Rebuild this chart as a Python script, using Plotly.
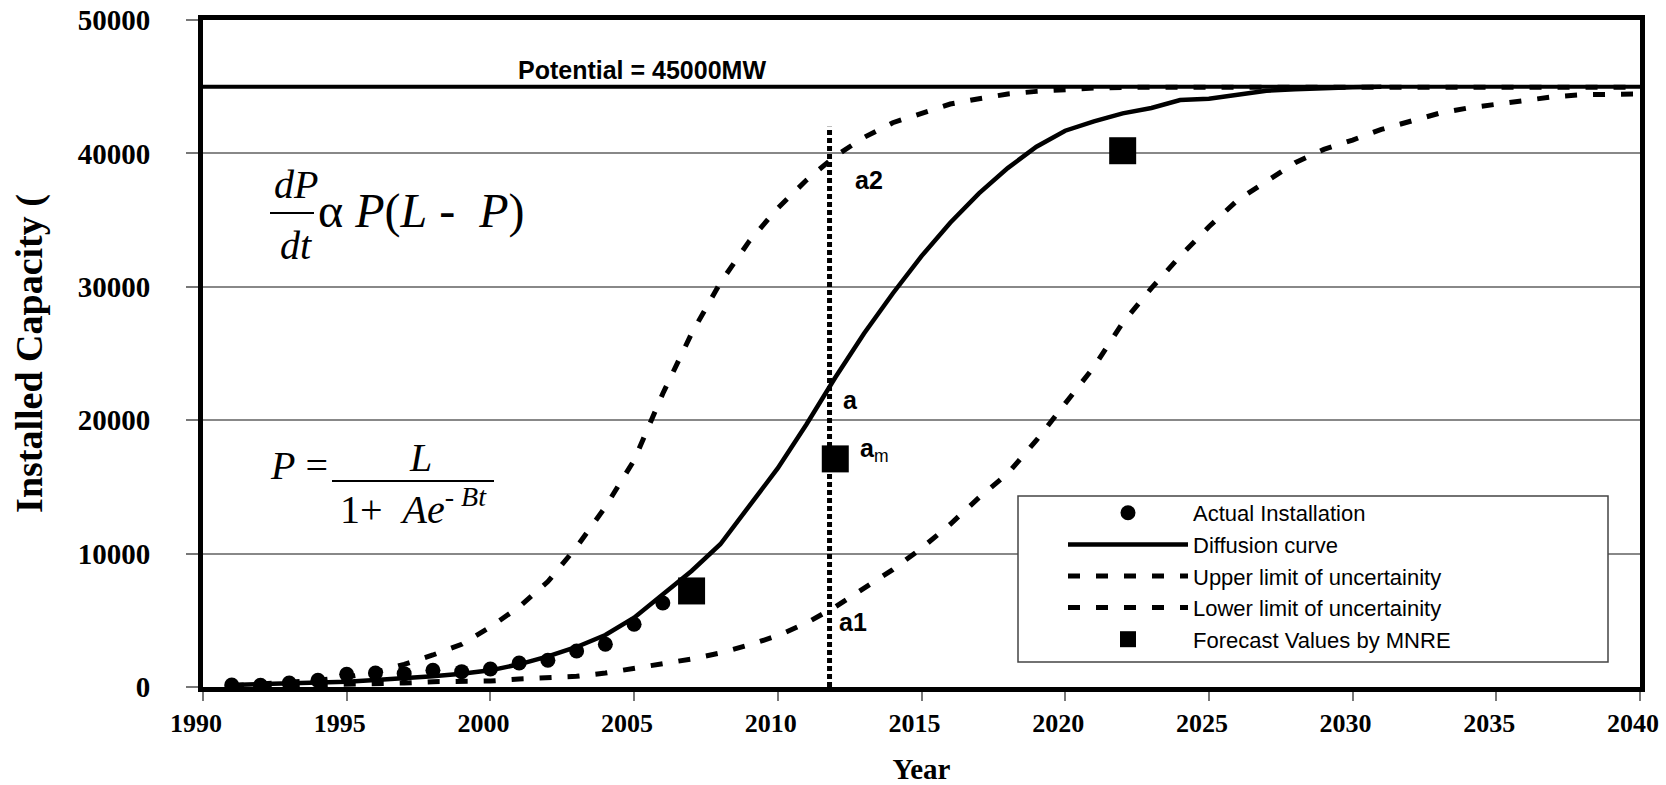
import plotly.graph_objects as go

# ---------------- data ----------------
actual_years = list(range(1991, 2007))
actual_values = [150, 130, 300, 500, 950, 1050, 1000, 1250, 1150, 1350, 1800, 2000, 2700, 3200, 4700, 6300]

curve_years = list(range(1991, 2032))
diffusion_values = [150, 200, 250, 320, 400, 520, 650, 800, 1000, 1250,
                    1700, 2300, 3000, 3900, 5200, 6900, 8700, 10700, 13500, 16400,
                    19700, 23200, 26500, 29500, 32300, 34800, 37000, 38900, 40500, 41700,
                    42400, 43000, 43400, 44000, 44100, 44400, 44700, 44800, 44900, 44950,
                    45000]

band_years = list(range(1991, 2041))
upper_values = [100, 200, 350, 500, 750, 1100, 1700, 2400, 3200, 4500,
                6000, 7900, 10500, 13500, 17000, 22000, 26500, 30300, 33400, 35900,
                38000, 39800, 41200, 42300, 43000, 43700, 44100, 44450, 44650, 44800,
                44900, 44950, 44950, 44950, 44950, 44950, 44950, 44950, 44950, 44950,
                44950, 44950, 44950, 44950, 44950, 44950, 44950, 44950, 44950, 44950]
lower_values = [50, 80, 100, 150, 200, 250, 300, 400, 400, 450,
                600, 700, 800, 1050, 1400, 1750, 2100, 2550, 3150, 3850,
                4800, 6000, 7400, 8800, 10400, 12200, 14200, 16000, 18500, 21300,
                24000, 27300, 29900, 32300, 34500, 36500, 37900, 39300, 40300, 41000,
                41800, 42400, 43000, 43400, 43700, 44000, 44250, 44400, 44450, 44450]

forecast_years = [2007, 2012, 2022]
forecast_values = [7200, 17100, 40200]

potential = 45000
potential_span = [1990, 2040]
marker_year = 2011.8
marker_top = 42000

x_ticks = list(range(1990, 2041, 5))
x_tick_labels = [str(v) for v in x_ticks]
y_ticks = list(range(0, 50001, 10000))
y_tick_labels = [str(v) for v in y_ticks]

# ---------------- layout helpers ----------------
W, H = 1666, 785
PLOT_L, PLOT_R, PLOT_T, PLOT_B = 203, 1640, 20, 687      # pixels
L_M, T_M = PLOT_L, PLOT_T
R_M, B_M = W - PLOT_R, H - PLOT_B
PW, PH = PLOT_R - PLOT_L, PLOT_B - PLOT_T


def pxx(x):
    return (x - PLOT_L) / PW


def pxy(y):
    return (PLOT_B - y) / PH


SERIF = "Liberation Serif, Times New Roman, serif"
SANS = "Liberation Sans, Arial, sans-serif"
NB = "\u00a0"

fig = go.Figure()

fig.add_trace(go.Scatter(
    x=actual_years, y=actual_values, mode="markers", name="Actual Installation",
    marker=dict(symbol="circle", size=15, color="black")))
fig.add_trace(go.Scatter(
    x=curve_years, y=diffusion_values, mode="lines", name="Diffusion curve",
    line=dict(color="black", width=4.5)))
fig.add_trace(go.Scatter(
    x=band_years, y=upper_values, mode="lines", name="Upper limit of uncertainity",
    line=dict(color="black", width=5, dash="12px,16px")))
fig.add_trace(go.Scatter(
    x=band_years, y=lower_values, mode="lines", name="Lower limit of uncertainity",
    line=dict(color="black", width=5, dash="12px,16px")))
fig.add_trace(go.Scatter(
    x=forecast_years, y=forecast_values, mode="markers", name="Forecast Values by MNRE",
    marker=dict(symbol="square", size=27, color="black")))

# potential line and vertical marker line
fig.add_trace(go.Scatter(
    x=potential_span, y=[potential, potential], mode="lines", showlegend=False,
    line=dict(color="black", width=4), hoverinfo="skip"))
fig.add_trace(go.Scatter(
    x=[marker_year, marker_year], y=[0, marker_top], mode="lines", showlegend=False,
    line=dict(color="black", width=5, dash="5px,3px"), hoverinfo="skip"))

annotations = []


def ann(text, x, y, size, family, xanchor="center", yanchor="middle"):
    annotations.append(dict(text=text, x=pxx(x), y=pxy(y), xref="paper", yref="paper",
                            xanchor=xanchor, yanchor=yanchor, showarrow=False,
                            font=dict(size=size, family=family, color="black")))


ann("<b>Potential = 45000MW</b>", 642, 70, 25, SANS)
ann("<b>a2</b>", 869, 180, 25, SANS)
ann("<b>a</b>", 850, 400, 25, SANS)
ann("<b>a</b><sub>m</sub>", 874, 450, 25, SANS)
ann("<b>a1</b>", 853, 622, 25, SANS)

# equations
ann("<i>dP</i>", 296, 185, 40, SERIF)
ann("<i>dt</i>", 296, 245, 40, SERIF)
ann("α" + NB + "<i>P</i>(<i>L</i>" + NB + "-" + NB + NB + "<i>P</i>)",
    316, 211, 48, SERIF, xanchor="left")
ann("<i>P</i> =", 268, 465, 40, SERIF, xanchor="left")
ann("<i>L</i>", 420, 457, 40, SERIF)
ann("1+" + NB + NB + "<i>Ae</i><sup>-" + NB + "<i>Bt</i></sup>", 338, 506, 40, SERIF,
    xanchor="left")

shapes = [
    dict(type="line", xref="paper", yref="paper", x0=pxx(270), x1=pxx(314),
         y0=pxy(213), y1=pxy(213), line=dict(color="black", width=2)),
    dict(type="line", xref="paper", yref="paper", x0=pxx(332), x1=pxx(494),
         y0=pxy(481), y1=pxy(481), line=dict(color="black", width=2)),
    # legend frame
    dict(type="rect", xref="paper", yref="paper", x0=pxx(1018), x1=pxx(1608),
         y0=pxy(662), y1=pxy(496), fillcolor="white", layer="above",
         line=dict(color="#444", width=1.5)),
]

fig.update_layout(
    width=W, height=H,
    margin=dict(l=L_M, r=R_M, t=T_M, b=B_M, autoexpand=False),
    plot_bgcolor="white", paper_bgcolor="white",
    annotations=annotations, shapes=shapes,
    legend=dict(x=pxx(1063), y=pxy(492), xanchor="left", yanchor="top",
                bgcolor="rgba(0,0,0,0)", borderwidth=0,
                font=dict(family=SANS, size=22, color="black"),
                itemwidth=120, tracegroupgap=0),
    xaxis=dict(range=[1990, 2040], tickvals=x_ticks, ticktext=x_tick_labels,
               ticks="outside", ticklen=9,
               tickcolor="#777", tickwidth=1.5, showgrid=False, zeroline=False,
               showline=True, linecolor="black", linewidth=5, mirror=True,
               ticklabelstandoff=0, ticklabelshift=-7, ticklabeloverflow="allow",
               tickfont=dict(family=SERIF, size=26, color="black", weight="bold"),
               title=dict(text="<b>Year</b>", font=dict(family=SERIF, size=29, color="black"),
                          standoff=39)),
    yaxis=dict(range=[0, 50000], tickvals=y_ticks, ticktext=y_tick_labels,
               ticks="outside", ticklen=12,
               tickcolor="#777", tickwidth=1.5, showgrid=True, gridcolor="#888",
               gridwidth=1.5, zeroline=False, ticklabelstandoff=30,
               ticklabeloverflow="allow",
               showline=True, linecolor="black", linewidth=5, mirror=True,
               tickfont=dict(family=SERIF, size=29, color="black", weight="bold"),
               title=dict(text="<b>Installed Capacity (</b>",
                          font=dict(family=SERIF, size=38, color="black"), standoff=25)),
    showlegend=True,
)

# drop the page's default 8px body margin so the figure fills the window exactly
fig.write_html("out.html", config={"displayModeBar": False},
               post_script="document.body.style.margin='0';")
